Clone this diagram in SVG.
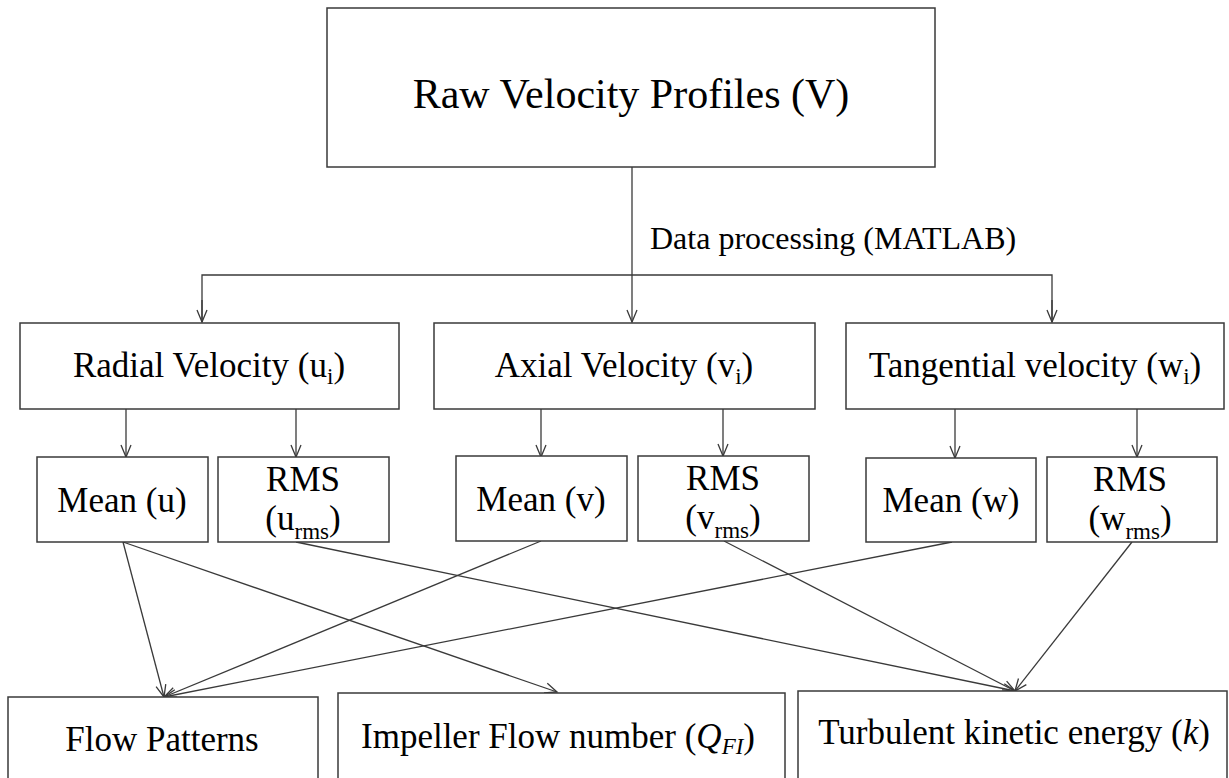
<svg xmlns="http://www.w3.org/2000/svg" width="1229" height="778" viewBox="0 0 1229 778">
  <style>
    .box { fill: #ffffff; stroke: #3a3a3a; stroke-width: 1.5; }
    .lbl { font-family: "Liberation Serif", "Times New Roman", serif; fill: #000; text-anchor: middle; }
    .big { font-size: 42px; }
    .mid { font-size: 35px; }
    .note { font-size: 32px; text-anchor: start; }
    .sub { font-size: 23px; }
    .wire { fill: none; stroke: #3a3a3a; stroke-width: 1.3; }
    .arr { marker-end: url(#head); }
  </style>
  <defs>
    <marker id="head" markerUnits="userSpaceOnUse" markerWidth="16" markerHeight="14" viewBox="-13 -7 15 14" refX="0" refY="0" orient="auto">
      <path d="M-12,-5 L0,0 L-12,5" fill="none" stroke="#3a3a3a" stroke-width="1.3"/>
    </marker>
  </defs>
  <rect width="1229" height="778" fill="#ffffff"/>

  <!-- connectors -->
  <g id="connectors">
    <line class="wire arr" x1="632" y1="167" x2="632" y2="322"/>
    <polyline class="wire" points="202,322 202,275 1052,275 1052,322"/>
    <line class="wire arr" x1="202" y1="300" x2="202" y2="322"/>
    <line class="wire arr" x1="1052" y1="300" x2="1052" y2="322"/>

    <line class="wire arr" x1="126" y1="409" x2="126" y2="457"/>
    <line class="wire arr" x1="296" y1="409" x2="296" y2="457"/>
    <line class="wire arr" x1="541" y1="409" x2="541" y2="457"/>
    <line class="wire arr" x1="723" y1="409" x2="723" y2="456"/>
    <line class="wire arr" x1="955" y1="409" x2="955" y2="458"/>
    <line class="wire arr" x1="1137" y1="409" x2="1137" y2="457"/>

    <line class="wire arr" x1="123" y1="542" x2="164" y2="697"/>
    <line class="wire arr" x1="123" y1="542" x2="557" y2="692"/>
    <line class="wire arr" x1="296" y1="542" x2="1015" y2="691"/>
    <line class="wire arr" x1="541" y1="541" x2="164" y2="697"/>
    <line class="wire arr" x1="952" y1="542" x2="164" y2="697"/>
    <line class="wire arr" x1="724" y1="541" x2="1015" y2="691"/>
    <line class="wire arr" x1="1132" y1="542" x2="1015" y2="691"/>
  </g>

  <g id="raw">
    <rect class="box" x="327" y="8" width="608" height="159"/>
    <text class="lbl big" x="631" y="108">Raw Velocity Profiles (V)</text>
  </g>

  <g id="processing-note">
    <text class="lbl note" x="650" y="249">Data processing (MATLAB)</text>
  </g>

  <g id="radial">
    <rect class="box" x="20" y="323" width="379" height="86"/>
    <text class="lbl mid" x="209" y="377">Radial Velocity (u<tspan class="sub" dy="7">i</tspan><tspan dy="-7">)</tspan></text>
  </g>
  <g id="axial">
    <rect class="box" x="434" y="323" width="381" height="86"/>
    <text class="lbl mid" x="624" y="377">Axial Velocity (v<tspan class="sub" dy="7">i</tspan><tspan dy="-7">)</tspan></text>
  </g>
  <g id="tangential">
    <rect class="box" x="846" y="323" width="378" height="86"/>
    <text class="lbl mid" x="1035" y="377">Tangential velocity (w<tspan class="sub" dy="7">i</tspan><tspan dy="-7">)</tspan></text>
  </g>

  <g id="mean-u">
    <rect class="box" x="37" y="457" width="171" height="85"/>
    <text class="lbl mid" x="122" y="512">Mean (u)</text>
  </g>
  <g id="rms-u">
    <rect class="box" x="218" y="457" width="171" height="85"/>
    <text class="lbl mid" x="303" y="491">RMS</text>
    <text class="lbl mid" x="303" y="530">(u<tspan class="sub" dy="9">rms</tspan><tspan dy="-9">)</tspan></text>
  </g>
  <g id="mean-v">
    <rect class="box" x="456" y="456" width="171" height="85"/>
    <text class="lbl mid" x="541" y="511">Mean (v)</text>
  </g>
  <g id="rms-v">
    <rect class="box" x="638" y="456" width="171" height="85"/>
    <text class="lbl mid" x="723" y="490">RMS</text>
    <text class="lbl mid" x="723" y="529">(v<tspan class="sub" dy="9">rms</tspan><tspan dy="-9">)</tspan></text>
  </g>
  <g id="mean-w">
    <rect class="box" x="866" y="458" width="170" height="84"/>
    <text class="lbl mid" x="951" y="512">Mean (w)</text>
  </g>
  <g id="rms-w">
    <rect class="box" x="1047" y="457" width="170" height="85"/>
    <text class="lbl mid" x="1130" y="491">RMS</text>
    <text class="lbl mid" x="1130" y="530">(w<tspan class="sub" dy="9">rms</tspan><tspan dy="-9">)</tspan></text>
  </g>

  <g id="flow-patterns">
    <rect class="box" x="8" y="697" width="310" height="100"/>
    <text class="lbl mid" x="162" y="751">Flow Patterns</text>
  </g>
  <g id="flow-number">
    <rect class="box" x="338" y="693" width="447" height="100"/>
    <text class="lbl mid" x="558" y="748">Impeller Flow number (<tspan font-style="italic">Q</tspan><tspan class="sub" font-style="italic" dy="6">FI</tspan><tspan dy="-6">)</tspan></text>
  </g>
  <g id="tke">
    <rect class="box" x="798" y="691" width="429" height="100"/>
    <text class="lbl mid" x="1014" y="744">Turbulent kinetic energy (<tspan font-style="italic">k</tspan>)</text>
  </g>
</svg>
